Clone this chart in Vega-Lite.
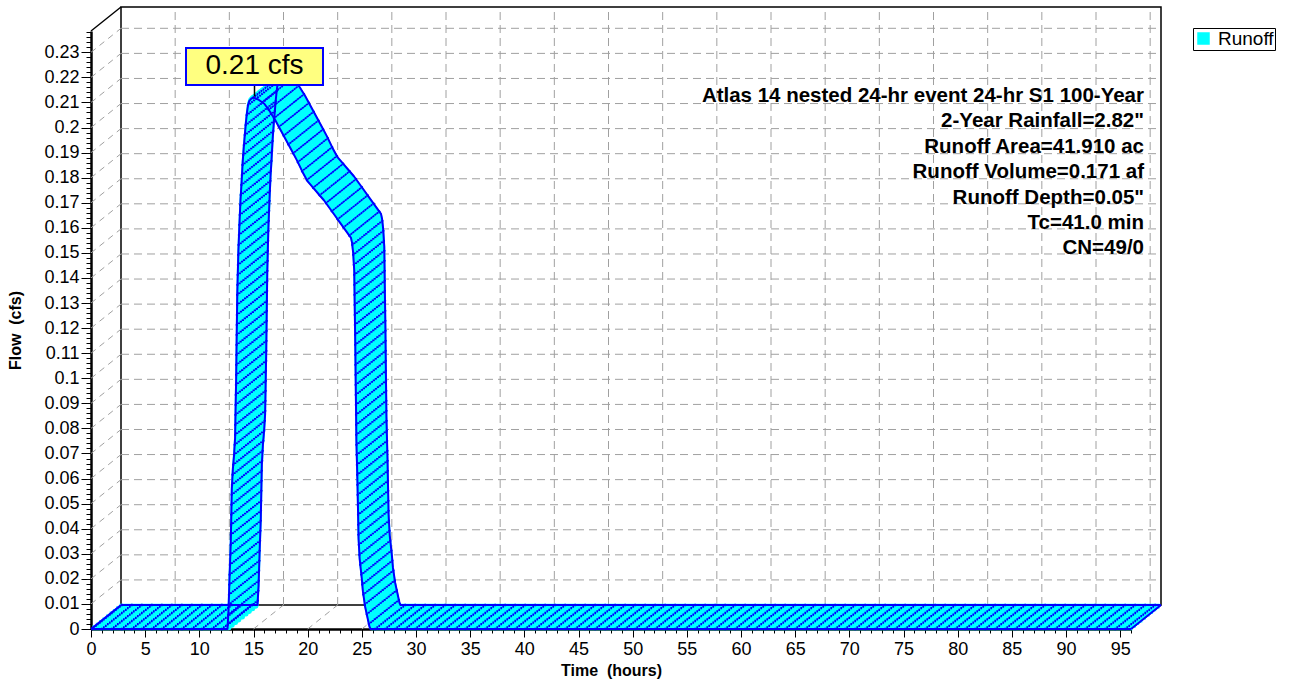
{
  "$schema": "https://vega.github.io/schema/vega-lite/v6.json",
  "width": 1040,
  "height": 598,
  "autosize": {"type": "none"},
  "padding": {"left": 121, "top": 7, "right": 133, "bottom": 80},
  "background": "white",
  "config": {"font": "Liberation Sans", "view": {"stroke": "black", "strokeWidth": 1.5}},
  "datasets": {
    "hydro": [
      {"t": 0, "q": 0}, {"t": 1, "q": 0}, {"t": 2, "q": 0}, {"t": 3, "q": 0}, {"t": 4, "q": 0}, {"t": 5, "q": 0},
      {"t": 6, "q": 0}, {"t": 7, "q": 0}, {"t": 8, "q": 0}, {"t": 9, "q": 0}, {"t": 10, "q": 0}, {"t": 11, "q": 0},
      {"t": 12, "q": 0}, {"t": 12.5, "q": 0}, {"t": 12.6, "q": 0}, {"t": 12.7, "q": 0.008}, {"t": 12.8, "q": 0.022},
      {"t": 12.9, "q": 0.034}, {"t": 13.0, "q": 0.056}, {"t": 13.1, "q": 0.064}, {"t": 13.2, "q": 0.069},
      {"t": 13.3, "q": 0.076}, {"t": 13.4, "q": 0.1}, {"t": 13.5, "q": 0.133}, {"t": 13.6, "q": 0.15},
      {"t": 13.7, "q": 0.161}, {"t": 13.8, "q": 0.171}, {"t": 13.9, "q": 0.178}, {"t": 14.0, "q": 0.186},
      {"t": 14.1, "q": 0.192}, {"t": 14.2, "q": 0.197}, {"t": 14.3, "q": 0.202}, {"t": 14.4, "q": 0.206},
      {"t": 14.5, "q": 0.209}, {"t": 14.6, "q": 0.2105}, {"t": 14.8, "q": 0.2115}, {"t": 15.0, "q": 0.212},
      {"t": 15.5, "q": 0.211}, {"t": 16.0, "q": 0.2095}, {"t": 16.5, "q": 0.2065}, {"t": 17.0, "q": 0.203},
      {"t": 17.5, "q": 0.199}, {"t": 18.0, "q": 0.195}, {"t": 18.5, "q": 0.191}, {"t": 19.0, "q": 0.187},
      {"t": 19.5, "q": 0.1825}, {"t": 20.0, "q": 0.1785}, {"t": 20.5, "q": 0.176}, {"t": 21.0, "q": 0.1735},
      {"t": 21.5, "q": 0.171}, {"t": 22.0, "q": 0.168}, {"t": 22.5, "q": 0.165}, {"t": 23.0, "q": 0.162},
      {"t": 23.5, "q": 0.159}, {"t": 24.0, "q": 0.156}, {"t": 24.1, "q": 0.154}, {"t": 24.2, "q": 0.15},
      {"t": 24.3, "q": 0.143}, {"t": 24.4, "q": 0.112}, {"t": 24.5, "q": 0.075}, {"t": 24.6, "q": 0.058},
      {"t": 24.7, "q": 0.036}, {"t": 24.8, "q": 0.028}, {"t": 24.9, "q": 0.024}, {"t": 25.0, "q": 0.02},
      {"t": 25.1, "q": 0.015}, {"t": 25.2, "q": 0.012}, {"t": 25.3, "q": 0.009}, {"t": 25.4, "q": 0.007},
      {"t": 25.5, "q": 0.005}, {"t": 25.6, "q": 0.003}, {"t": 25.7, "q": 0.001}, {"t": 25.8, "q": 0},
      {"t": 26, "q": 0}, {"t": 27, "q": 0}, {"t": 28, "q": 0}, {"t": 29, "q": 0}, {"t": 30, "q": 0},
      {"t": 31, "q": 0}, {"t": 32, "q": 0}, {"t": 33, "q": 0}, {"t": 34, "q": 0}, {"t": 35, "q": 0},
      {"t": 36, "q": 0}, {"t": 37, "q": 0}, {"t": 38, "q": 0}, {"t": 39, "q": 0}, {"t": 40, "q": 0},
      {"t": 41, "q": 0}, {"t": 42, "q": 0}, {"t": 43, "q": 0}, {"t": 44, "q": 0}, {"t": 45, "q": 0},
      {"t": 46, "q": 0}, {"t": 47, "q": 0}, {"t": 48, "q": 0}, {"t": 49, "q": 0}, {"t": 50, "q": 0},
      {"t": 51, "q": 0}, {"t": 52, "q": 0}, {"t": 53, "q": 0}, {"t": 54, "q": 0}, {"t": 55, "q": 0},
      {"t": 56, "q": 0}, {"t": 57, "q": 0}, {"t": 58, "q": 0}, {"t": 59, "q": 0}, {"t": 60, "q": 0},
      {"t": 61, "q": 0}, {"t": 62, "q": 0}, {"t": 63, "q": 0}, {"t": 64, "q": 0}, {"t": 65, "q": 0},
      {"t": 66, "q": 0}, {"t": 67, "q": 0}, {"t": 68, "q": 0}, {"t": 69, "q": 0}, {"t": 70, "q": 0},
      {"t": 71, "q": 0}, {"t": 72, "q": 0}, {"t": 73, "q": 0}, {"t": 74, "q": 0}, {"t": 75, "q": 0},
      {"t": 76, "q": 0}, {"t": 77, "q": 0}, {"t": 78, "q": 0}, {"t": 79, "q": 0}, {"t": 80, "q": 0},
      {"t": 81, "q": 0}, {"t": 82, "q": 0}, {"t": 83, "q": 0}, {"t": 84, "q": 0}, {"t": 85, "q": 0},
      {"t": 86, "q": 0}, {"t": 87, "q": 0}, {"t": 88, "q": 0}, {"t": 89, "q": 0}, {"t": 90, "q": 0},
      {"t": 91, "q": 0}, {"t": 92, "q": 0}, {"t": 93, "q": 0}, {"t": 94, "q": 0}, {"t": 95, "q": 0},
      {"t": 96, "q": 0}
    ],
    "flowGrid": [
      {"q": 0.01}, {"q": 0.02}, {"q": 0.03}, {"q": 0.04}, {"q": 0.05}, {"q": 0.06}, {"q": 0.07}, {"q": 0.08},
      {"q": 0.09}, {"q": 0.1}, {"q": 0.11}, {"q": 0.12}, {"q": 0.13}, {"q": 0.14}, {"q": 0.15}, {"q": 0.16},
      {"q": 0.17}, {"q": 0.18}, {"q": 0.19}, {"q": 0.2}, {"q": 0.21}, {"q": 0.22}, {"q": 0.23}
    ],
    "notes": [
      {"note": "Atlas 14 nested 24-hr event 24-hr S1 100-Year\n2-Year Rainfall=2.82\"\nRunoff Area=41.910 ac\nRunoff Volume=0.171 af\nRunoff Depth=0.05\"\nTc=41.0 min\nCN=49/0"}
    ]
  },
  "resolve": {"axis": {"x": "independent", "y": "independent"}},
  "layer": [
    {
      "data": {"name": "hydro"},
      "mark": {"type": "line", "opacity": 0},
      "encoding": {
        "x": {"field": "t", "type": "quantitative",
          "scale": {"domain": [0, 96], "nice": false, "zero": false},
          "axis": {"orient": "bottom", "position": -30, "offset": 24, "grid": false,
            "values": [0,1,2,3,4,5,6,7,8,9,10,11,12,13,14,15,16,17,18,19,20,21,22,23,24,25,26,27,28,29,30,31,32,33,34,35,36,37,38,39,40,41,42,43,44,45,46,47,48,49,50,51,52,53,54,55,56,57,58,59,60,61,62,63,64,65,66,67,68,69,70,71,72,73,74,75,76,77,78,79,80,81,82,83,84,85,86,87,88,89,90,91,92,93,94,95,96],
            "labelExpr": "datum.value % 5 == 0 ? format(datum.value, 'd') : ''",
            "tickSize": {"condition": {"test": "datum.value % 5 == 0", "value": 8}, "value": 4},
            "tickColor": "black", "tickWidth": 1, "domainColor": "black", "domainWidth": 2.5,
            "labelFontSize": 18, "labelColor": "black", "labelPadding": 3, "labelOverlap": false, "labelFlush": false,
            "title": "Time\u00a0\u00a0(hours)", "titleFontSize": 16, "titleFontWeight": "bold", "titleColor": "black", "titlePadding": 4}},
        "y": {"field": "q", "type": "quantitative",
          "scale": {"domain": [0, 0.2385], "nice": false, "zero": false},
          "axis": {"orient": "left", "position": 24, "offset": 30, "grid": false,
            "values": [0,0.002,0.004,0.006,0.008,0.01,0.012,0.014,0.016,0.018,0.02,0.022,0.024,0.026,0.028,0.03,0.032,0.034,0.036,0.038,0.04,0.042,0.044,0.046,0.048,0.05,0.052,0.054,0.056,0.058,0.06,0.062,0.064,0.066,0.068,0.07,0.072,0.074,0.076,0.078,0.08,0.082,0.084,0.086,0.088,0.09,0.092,0.094,0.096,0.098,0.1,0.102,0.104,0.106,0.108,0.11,0.112,0.114,0.116,0.118,0.12,0.122,0.124,0.126,0.128,0.13,0.132,0.134,0.136,0.138,0.14,0.142,0.144,0.146,0.148,0.15,0.152,0.154,0.156,0.158,0.16,0.162,0.164,0.166,0.168,0.17,0.172,0.174,0.176,0.178,0.18,0.182,0.184,0.186,0.188,0.19,0.192,0.194,0.196,0.198,0.2,0.202,0.204,0.206,0.208,0.21,0.212,0.214,0.216,0.218,0.22,0.222,0.224,0.226,0.228,0.23,0.232,0.234,0.236,0.238],
            "labelExpr": "abs(datum.value*100 - round(datum.value*100)) < 0.01 ? format(datum.value, '.2~f') : ''",
            "tickSize": {"condition": {"test": "abs(datum.value*100 - round(datum.value*100)) < 0.01", "value": 10}, "value": 5},
            "tickColor": "black", "tickWidth": 1, "domainColor": "black", "domainWidth": 2.5,
            "labelFontSize": 18, "labelColor": "black", "labelPadding": 2, "labelOverlap": false, "labelFlush": false,
            "title": "Flow\u00a0\u00a0(cfs)", "titleFontSize": 16, "titleFontWeight": "bold", "titleColor": "black", "titlePadding": 20}}
      }
    },
    {
      "data": {"name": "flowGrid"},
      "mark": {"type": "rule", "color": "#A0A0A0", "strokeDash": [8, 5], "strokeWidth": 1},
      "encoding": {
        "x": {"datum": 0, "type": "quantitative", "axis": null},
        "x2": {"datum": 96},
        "y": {"field": "q", "type": "quantitative", "axis": null}
      }
    },
    {
      "data": {"name": "hydro"},
      "transform": [{"filter": "datum.t % 5 == 0 && datum.t > 0"}],
      "mark": {"type": "rule", "color": "#A0A0A0", "strokeDash": [8, 5], "strokeWidth": 1},
      "encoding": {
        "x": {"field": "t", "type": "quantitative", "axis": null},
        "y": {"datum": 0, "type": "quantitative", "axis": null},
        "y2": {"datum": 0.2385}
      }
    },
    {
      "data": {"name": "flowGrid"},
      "mark": {"type": "rule", "xOffset": -30, "yOffset": 24, "x2Offset": 0, "y2Offset": 0, "color": "#A0A0A0", "strokeDash": [6, 5], "strokeWidth": 1},
      "encoding": {
        "x": {"datum": 0, "type": "quantitative", "axis": null},
        "x2": {"datum": 0},
        "y": {"field": "q", "type": "quantitative", "axis": null},
        "y2": {"field": "q"}
      }
    },
    {
      "data": {"name": "hydro"},
      "transform": [{"filter": "datum.t % 5 == 0 && datum.t > 0"}],
      "mark": {"type": "rule", "xOffset": -30, "yOffset": 24, "x2Offset": 0, "y2Offset": 0, "color": "#A0A0A0", "strokeDash": [6, 5], "strokeWidth": 1},
      "encoding": {
        "x": {"field": "t", "type": "quantitative", "axis": null},
        "x2": {"field": "t"},
        "y": {"datum": 0, "type": "quantitative", "axis": null},
        "y2": {"datum": 0}
      }
    },
    {
      "data": {"values": [{}]},
      "mark": {"type": "rule", "xOffset": -30, "yOffset": 24, "x2Offset": 0, "y2Offset": 0, "color": "black", "strokeWidth": 1.5},
      "encoding": {
        "x": {"datum": 0, "type": "quantitative", "axis": null},
        "x2": {"datum": 0},
        "y": {"datum": 0.2385, "type": "quantitative", "axis": null},
        "y2": {"datum": 0.2385}
      }
    },
    {
      "data": {"values": [{}]},
      "mark": {"type": "rule", "xOffset": -30, "yOffset": 24, "x2Offset": 0, "y2Offset": 0, "color": "black", "strokeWidth": 1.5},
      "encoding": {
        "x": {"datum": 96, "type": "quantitative", "axis": null},
        "x2": {"datum": 96},
        "y": {"datum": 0, "type": "quantitative", "axis": null},
        "y2": {"datum": 0}
      }
    },
    {"data": {"name": "hydro"}, "mark": {"type": "line", "color": "#00FFFF", "strokeWidth": 5, "strokeJoin": "round", "strokeCap": "butt", "xOffset": -28.5, "yOffset": 22.8},
     "encoding": {"x": {"field": "t", "type": "quantitative", "axis": null}, "y": {"field": "q", "type": "quantitative", "axis": null}}},
    {"data": {"name": "hydro"}, "mark": {"type": "line", "color": "#00FFFF", "strokeWidth": 5, "strokeJoin": "round", "strokeCap": "butt", "xOffset": -25.2, "yOffset": 20.16},
     "encoding": {"x": {"field": "t", "type": "quantitative", "axis": null}, "y": {"field": "q", "type": "quantitative", "axis": null}}},
    {"data": {"name": "hydro"}, "mark": {"type": "line", "color": "#00FFFF", "strokeWidth": 5, "strokeJoin": "round", "strokeCap": "butt", "xOffset": -21.9, "yOffset": 17.52},
     "encoding": {"x": {"field": "t", "type": "quantitative", "axis": null}, "y": {"field": "q", "type": "quantitative", "axis": null}}},
    {"data": {"name": "hydro"}, "mark": {"type": "line", "color": "#00FFFF", "strokeWidth": 5, "strokeJoin": "round", "strokeCap": "butt", "xOffset": -18.6, "yOffset": 14.88},
     "encoding": {"x": {"field": "t", "type": "quantitative", "axis": null}, "y": {"field": "q", "type": "quantitative", "axis": null}}},
    {"data": {"name": "hydro"}, "mark": {"type": "line", "strokeWidth": 5, "strokeJoin": "round", "strokeCap": "butt", "xOffset": -15, "yOffset": 12},
     "encoding": {"x": {"field": "t", "type": "quantitative", "axis": null}, "y": {"field": "q", "type": "quantitative", "axis": null},
       "color": {"datum": "Runoff", "scale": {"range": ["#00FFFF"]},
         "legend": {"orient": "none", "legendX": 1072, "legendY": 21, "title": null, "fillColor": "white", "strokeColor": "black",
           "padding": 1, "labelFontSize": 19, "labelColor": "black", "labelOffset": 5, "symbolSize": 121, "symbolType": "square",
           "symbolFillColor": "#00FFFF", "symbolStrokeColor": "#0000FF", "symbolStrokeWidth": 1.5,
           "encode": {"symbols": {"update": {"fill": {"value": "#00FFFF"}, "stroke": {"value": "#0000FF"}, "strokeWidth": {"value": 1.5}, "shape": {"value": "square"}, "opacity": {"value": 1}}}}}}}},
    {"data": {"name": "hydro"}, "mark": {"type": "line", "color": "#00FFFF", "strokeWidth": 5, "strokeJoin": "round", "strokeCap": "butt", "xOffset": -11.4, "yOffset": 9.12},
     "encoding": {"x": {"field": "t", "type": "quantitative", "axis": null}, "y": {"field": "q", "type": "quantitative", "axis": null}}},
    {"data": {"name": "hydro"}, "mark": {"type": "line", "color": "#00FFFF", "strokeWidth": 5, "strokeJoin": "round", "strokeCap": "butt", "xOffset": -8.1, "yOffset": 6.48},
     "encoding": {"x": {"field": "t", "type": "quantitative", "axis": null}, "y": {"field": "q", "type": "quantitative", "axis": null}}},
    {"data": {"name": "hydro"}, "mark": {"type": "line", "color": "#00FFFF", "strokeWidth": 5, "strokeJoin": "round", "strokeCap": "butt", "xOffset": -4.8, "yOffset": 3.84},
     "encoding": {"x": {"field": "t", "type": "quantitative", "axis": null}, "y": {"field": "q", "type": "quantitative", "axis": null}}},
    {"data": {"name": "hydro"}, "mark": {"type": "line", "color": "#00FFFF", "strokeWidth": 5, "strokeJoin": "round", "strokeCap": "butt", "xOffset": -1.5, "yOffset": 1.2},
     "encoding": {"x": {"field": "t", "type": "quantitative", "axis": null}, "y": {"field": "q", "type": "quantitative", "axis": null}}},
    {"data": {"name": "hydro"}, "mark": {"type": "line", "color": "#0000FF", "strokeWidth": 2.3, "strokeDash": [1.7, 8.3], "strokeCap": "butt", "xOffset": -30, "yOffset": 24},
     "encoding": {"x": {"field": "t", "type": "quantitative", "axis": null}, "y": {"field": "q", "type": "quantitative", "axis": null}}},
    {"data": {"name": "hydro"}, "mark": {"type": "line", "color": "#0000FF", "strokeWidth": 2.3, "strokeDash": [1.7, 8.3], "strokeCap": "butt", "xOffset": -28, "yOffset": 22.4},
     "encoding": {"x": {"field": "t", "type": "quantitative", "axis": null}, "y": {"field": "q", "type": "quantitative", "axis": null}}},
    {"data": {"name": "hydro"}, "mark": {"type": "line", "color": "#0000FF", "strokeWidth": 2.3, "strokeDash": [1.7, 8.3], "strokeCap": "butt", "xOffset": -26, "yOffset": 20.8},
     "encoding": {"x": {"field": "t", "type": "quantitative", "axis": null}, "y": {"field": "q", "type": "quantitative", "axis": null}}},
    {"data": {"name": "hydro"}, "mark": {"type": "line", "color": "#0000FF", "strokeWidth": 2.3, "strokeDash": [1.7, 8.3], "strokeCap": "butt", "xOffset": -24, "yOffset": 19.2},
     "encoding": {"x": {"field": "t", "type": "quantitative", "axis": null}, "y": {"field": "q", "type": "quantitative", "axis": null}}},
    {"data": {"name": "hydro"}, "mark": {"type": "line", "color": "#0000FF", "strokeWidth": 2.3, "strokeDash": [1.7, 8.3], "strokeCap": "butt", "xOffset": -22, "yOffset": 17.6},
     "encoding": {"x": {"field": "t", "type": "quantitative", "axis": null}, "y": {"field": "q", "type": "quantitative", "axis": null}}},
    {"data": {"name": "hydro"}, "mark": {"type": "line", "color": "#0000FF", "strokeWidth": 2.3, "strokeDash": [1.7, 8.3], "strokeCap": "butt", "xOffset": -20, "yOffset": 16},
     "encoding": {"x": {"field": "t", "type": "quantitative", "axis": null}, "y": {"field": "q", "type": "quantitative", "axis": null}}},
    {"data": {"name": "hydro"}, "mark": {"type": "line", "color": "#0000FF", "strokeWidth": 2.3, "strokeDash": [1.7, 8.3], "strokeCap": "butt", "xOffset": -18, "yOffset": 14.4},
     "encoding": {"x": {"field": "t", "type": "quantitative", "axis": null}, "y": {"field": "q", "type": "quantitative", "axis": null}}},
    {"data": {"name": "hydro"}, "mark": {"type": "line", "color": "#0000FF", "strokeWidth": 2.3, "strokeDash": [1.7, 8.3], "strokeCap": "butt", "xOffset": -16, "yOffset": 12.8},
     "encoding": {"x": {"field": "t", "type": "quantitative", "axis": null}, "y": {"field": "q", "type": "quantitative", "axis": null}}},
    {"data": {"name": "hydro"}, "mark": {"type": "line", "color": "#0000FF", "strokeWidth": 2.3, "strokeDash": [1.7, 8.3], "strokeCap": "butt", "xOffset": -14, "yOffset": 11.2},
     "encoding": {"x": {"field": "t", "type": "quantitative", "axis": null}, "y": {"field": "q", "type": "quantitative", "axis": null}}},
    {"data": {"name": "hydro"}, "mark": {"type": "line", "color": "#0000FF", "strokeWidth": 2.3, "strokeDash": [1.7, 8.3], "strokeCap": "butt", "xOffset": -12, "yOffset": 9.6},
     "encoding": {"x": {"field": "t", "type": "quantitative", "axis": null}, "y": {"field": "q", "type": "quantitative", "axis": null}}},
    {"data": {"name": "hydro"}, "mark": {"type": "line", "color": "#0000FF", "strokeWidth": 2.3, "strokeDash": [1.7, 8.3], "strokeCap": "butt", "xOffset": -10, "yOffset": 8},
     "encoding": {"x": {"field": "t", "type": "quantitative", "axis": null}, "y": {"field": "q", "type": "quantitative", "axis": null}}},
    {"data": {"name": "hydro"}, "mark": {"type": "line", "color": "#0000FF", "strokeWidth": 2.3, "strokeDash": [1.7, 8.3], "strokeCap": "butt", "xOffset": -8, "yOffset": 6.4},
     "encoding": {"x": {"field": "t", "type": "quantitative", "axis": null}, "y": {"field": "q", "type": "quantitative", "axis": null}}},
    {"data": {"name": "hydro"}, "mark": {"type": "line", "color": "#0000FF", "strokeWidth": 2.3, "strokeDash": [1.7, 8.3], "strokeCap": "butt", "xOffset": -6, "yOffset": 4.8},
     "encoding": {"x": {"field": "t", "type": "quantitative", "axis": null}, "y": {"field": "q", "type": "quantitative", "axis": null}}},
    {"data": {"name": "hydro"}, "mark": {"type": "line", "color": "#0000FF", "strokeWidth": 2.3, "strokeDash": [1.7, 8.3], "strokeCap": "butt", "xOffset": -4, "yOffset": 3.2},
     "encoding": {"x": {"field": "t", "type": "quantitative", "axis": null}, "y": {"field": "q", "type": "quantitative", "axis": null}}},
    {"data": {"name": "hydro"}, "mark": {"type": "line", "color": "#0000FF", "strokeWidth": 2.3, "strokeDash": [1.7, 8.3], "strokeCap": "butt", "xOffset": -2, "yOffset": 1.6},
     "encoding": {"x": {"field": "t", "type": "quantitative", "axis": null}, "y": {"field": "q", "type": "quantitative", "axis": null}}},
    {"data": {"name": "hydro"}, "mark": {"type": "line", "color": "#0000FF", "strokeWidth": 2.3, "strokeDash": [1.7, 8.3], "strokeCap": "butt"},
     "encoding": {"x": {"field": "t", "type": "quantitative", "axis": null}, "y": {"field": "q", "type": "quantitative", "axis": null}}},
    {
      "data": {"name": "hydro"},
      "transform": [{"filter": "datum.t == 0 || datum.t == 96"}],
      "mark": {"type": "rule", "xOffset": -30, "yOffset": 24, "x2Offset": 0, "y2Offset": 0, "color": "#0000FF", "strokeWidth": 2},
      "encoding": {
        "x": {"field": "t", "type": "quantitative", "axis": null},
        "x2": {"field": "t"},
        "y": {"field": "q", "type": "quantitative", "axis": null},
        "y2": {"field": "q"}
      }
    },
    {"data": {"name": "hydro"}, "mark": {"type": "line", "color": "#0000FF", "strokeWidth": 2, "strokeJoin": "round", "xOffset": -30, "yOffset": 24},
     "encoding": {"x": {"field": "t", "type": "quantitative", "axis": null}, "y": {"field": "q", "type": "quantitative", "axis": null}}},
    {"data": {"name": "hydro"}, "mark": {"type": "line", "color": "#0000FF", "strokeWidth": 2, "strokeJoin": "round"},
     "encoding": {"x": {"field": "t", "type": "quantitative", "axis": null}, "y": {"field": "q", "type": "quantitative", "axis": null}}},
    {
      "data": {"name": "hydro"},
      "transform": [{"joinaggregate": [{"op": "max", "field": "q", "as": "qmax"}]}, {"filter": "datum.q == datum.qmax"}],
      "mark": {"type": "rule", "xOffset": -29, "yOffset": 23, "y2Offset": 12, "color": "black", "strokeWidth": 1.5},
      "encoding": {
        "x": {"field": "t", "type": "quantitative", "axis": null},
        "y": {"field": "q", "type": "quantitative", "axis": null},
        "y2": {"field": "q"}
      }
    },
    {
      "data": {"name": "hydro"},
      "transform": [{"joinaggregate": [{"op": "max", "field": "q", "as": "qmax"}]}, {"filter": "datum.q == datum.qmax"}],
      "mark": {"type": "rect", "xOffset": -97.5, "x2Offset": 39.5, "yOffset": -25.4, "y2Offset": 11.6, "fill": "#FFFF80", "stroke": "#0000FF", "strokeWidth": 2},
      "encoding": {
        "x": {"field": "t", "type": "quantitative", "axis": null},
        "x2": {"field": "t"},
        "y": {"field": "q", "type": "quantitative", "axis": null},
        "y2": {"field": "q"}
      }
    },
    {
      "data": {"name": "hydro"},
      "transform": [{"joinaggregate": [{"op": "max", "field": "q", "as": "qmax"}]}, {"filter": "datum.q == datum.qmax"}],
      "mark": {"type": "text", "text": "0.21 cfs", "dx": -29, "dy": -7, "align": "center", "baseline": "middle", "fontSize": 28, "color": "black"},
      "encoding": {
        "x": {"field": "t", "type": "quantitative", "axis": null},
        "y": {"field": "q", "type": "quantitative", "axis": null}
      }
    },
    {
      "data": {"name": "notes"},
      "mark": {"type": "text", "align": "right", "baseline": "alphabetic", "lineBreak": "\n", "lineHeight": 25.4, "dx": -17, "dy": 95, "fontSize": 20.5, "fontWeight": "bold", "color": "black"},
      "encoding": {
        "x": {"datum": 96, "type": "quantitative", "axis": null},
        "y": {"datum": 0.2385, "type": "quantitative", "axis": null},
        "text": {"field": "note"}
      }
    }
  ]
}
